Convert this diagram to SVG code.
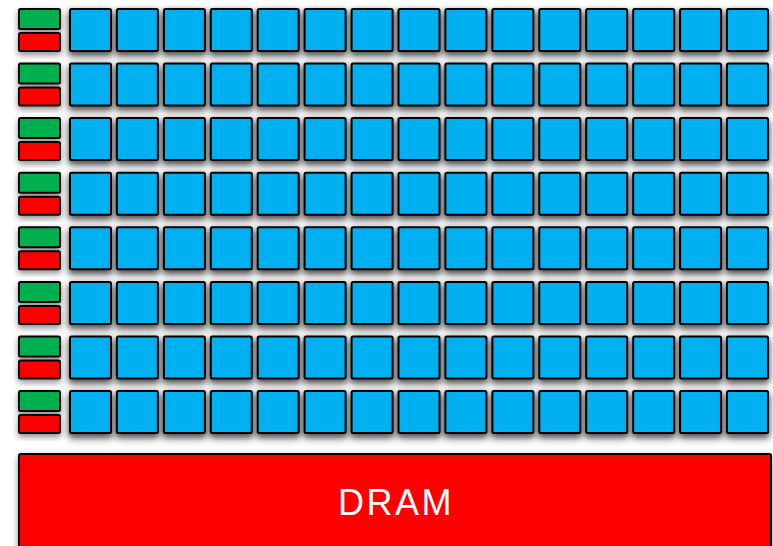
<svg xmlns="http://www.w3.org/2000/svg" xmlns:xlink="http://www.w3.org/1999/xlink" width="773" height="546" viewBox="0 0 773 546">
<defs>
<filter id="sh" x="-30%" y="-30%" width="160%" height="170%">
<feDropShadow dx="0" dy="3" stdDeviation="3" flood-color="#000" flood-opacity="0.45"/>
</filter>
<rect id="b" width="41" height="42" rx="1.5"/>
<g id="row">
<rect class="g" x="19" y="0" width="41" height="20" rx="1.5"/>
<rect class="r" x="19" y="24" width="41" height="18" rx="1.5"/>
<use href="#b" x="70" class="bl"/><use href="#b" x="116.9" class="bl"/><use href="#b" x="163.9" class="bl"/><use href="#b" x="210.8" class="bl"/><use href="#b" x="257.7" class="bl"/><use href="#b" x="304.6" class="bl"/><use href="#b" x="351.6" class="bl"/><use href="#b" x="398.5" class="bl"/><use href="#b" x="445.4" class="bl"/><use href="#b" x="492.4" class="bl"/><use href="#b" x="539.3" class="bl"/><use href="#b" x="586.2" class="bl"/><use href="#b" x="633.2" class="bl"/><use href="#b" x="680.1" class="bl"/><use href="#b" x="727" class="bl"/>
</g>
</defs>
<style>
rect,use{stroke:#000;stroke-width:2;filter:url(#sh)}
.g{fill:#00B050}.r{fill:#FF0000}.bl{fill:#00B0F0}
.t{font-family:"Liberation Sans",Arial,sans-serif;font-size:36px;letter-spacing:2.5px;fill:#fff;text-anchor:middle}
</style>
<rect width="773" height="546" fill="#fff" style="stroke:none;filter:none"/>
<g id="row1"><use href="#row" y="9" style="filter:none;stroke:none"/></g>
<g id="row2"><use href="#row" y="63.6" style="filter:none;stroke:none"/></g>
<g id="row3"><use href="#row" y="118.1" style="filter:none;stroke:none"/></g>
<g id="row4"><use href="#row" y="172.7" style="filter:none;stroke:none"/></g>
<g id="row5"><use href="#row" y="227.3" style="filter:none;stroke:none"/></g>
<g id="row6"><use href="#row" y="281.9" style="filter:none;stroke:none"/></g>
<g id="row7"><use href="#row" y="336.4" style="filter:none;stroke:none"/></g>
<g id="row8"><use href="#row" y="391" style="filter:none;stroke:none"/></g>
<g id="dram">
<rect class="r" x="19" y="454" width="752" height="100" rx="1.5"/>
<text class="t" x="396" y="515">DRAM</text>
</g>
<g id="connectors"/>
</svg>
